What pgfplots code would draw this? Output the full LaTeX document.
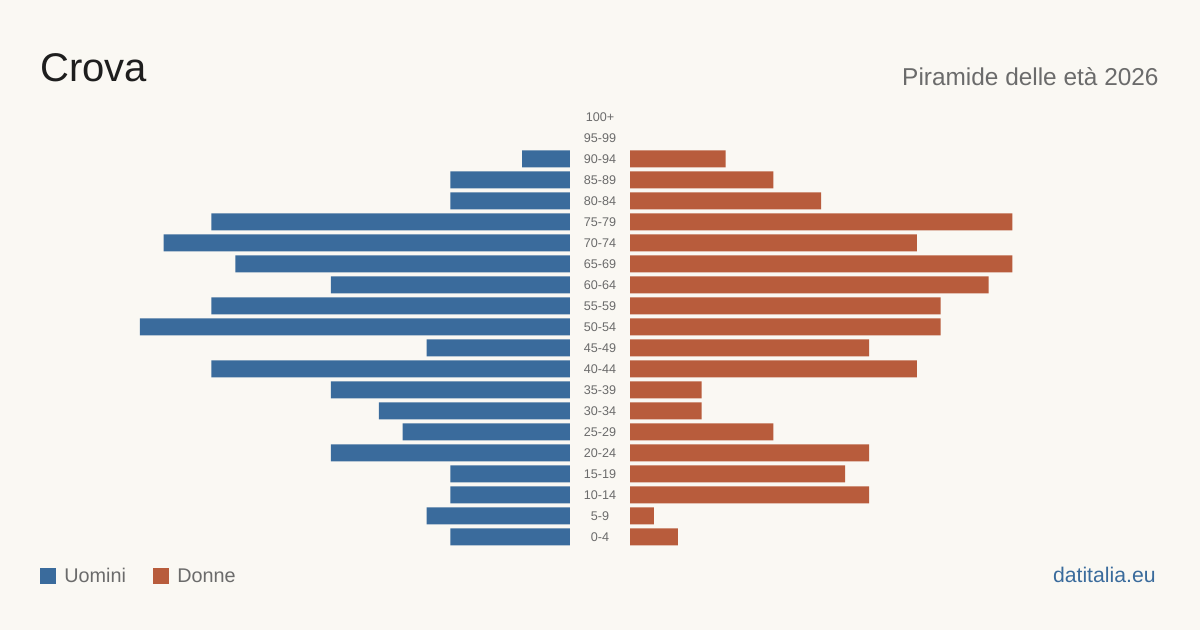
\documentclass[border=0pt]{standalone}
\usepackage{fontspec}
\setmainfont{Liberation Sans}
\usepackage{pgfplots}
\pgfplotsset{compat=1.18}
\definecolor{bg}{HTML}{FAF8F3}
\definecolor{uom}{HTML}{3A6B9C}
\definecolor{don}{HTML}{B85C3C}
\definecolor{txt}{HTML}{1E1E1E}
\definecolor{sub}{HTML}{6B6B6B}
\begin{document}
\begin{tikzpicture}[x=0.5pt,y=0.5pt]
\fill[bg] (0,0) rectangle (1200,630);
\useasboundingbox (0,0) rectangle (1200,630);
\pgfplotsset{pyr/.style={
  xbar, bar shift=0pt, bar width=8.5pt,
  scale only axis, width=239pt, height=220.5pt,
  xmin=0, xmax=20, ymin=-0.5, ymax=20.5,
  axis line style={draw=none}, major tick length=0pt,
  xtick=\empty, clip=false,
}}
% left axis: men (95-99 and 100+ are zero)
\begin{axis}[pyr, at={(46pt,41.25pt)}, anchor=south west, x dir=reverse, ytick=\empty]
\addplot[draw=none, fill=uom] coordinates {
(5,0) (6,1) (5,2) (5,3) (10,4) (7,5) (8,6) (10,7) (15,8) (6,9)
(18,10) (15,11) (10,12) (14,13) (17,14) (15,15) (5,16) (5,17) (2,18)};
\end{axis}
% right axis: women (95-99 and 100+ are zero)
\begin{axis}[pyr, at={(315pt,41.25pt)}, anchor=south west,
  ytick={0,...,20},
  yticklabels={0-4,5-9,10-14,15-19,20-24,25-29,30-34,35-39,40-44,45-49,50-54,55-59,60-64,65-69,70-74,75-79,80-84,85-89,90-94,95-99,100+},
  yticklabel style={anchor=center, xshift=-15pt, font=\fontsize{6.3}{7}\selectfont, text=sub}]
\addplot[draw=none, fill=don] coordinates {
(2,0) (1,1) (10,2) (9,3) (10,4) (6,5) (3,6) (3,7) (12,8) (10,9)
(13,10) (13,11) (15,12) (16,13) (12,14) (16,15) (8,16) (6,17) (4,18)};
\end{axis}
% titles
\node[anchor=base west, inner sep=0, text=txt, font=\fontsize{20}{24}\selectfont] at (40,548) {Crova};
\node[anchor=base east, inner sep=0, text=sub, font=\fontsize{12.2}{14}\selectfont] at (1159,544) {Piramide delle età 2026};
% legend
\fill[uom] (40,46) rectangle (56,62);
\node[anchor=base west, inner sep=0, text=sub, font=\fontsize{9.9}{11}\selectfont] at (64,47) {Uomini};
\fill[don] (153,46) rectangle (169,62);
\node[anchor=base west, inner sep=0, text=sub, font=\fontsize{9.9}{11}\selectfont] at (177,47) {Donne};
\node[anchor=base east, inner sep=0, text=uom, font=\fontsize{10.6}{12}\selectfont] at (1156,47) {datitalia.eu};
\end{tikzpicture}
\end{document}
